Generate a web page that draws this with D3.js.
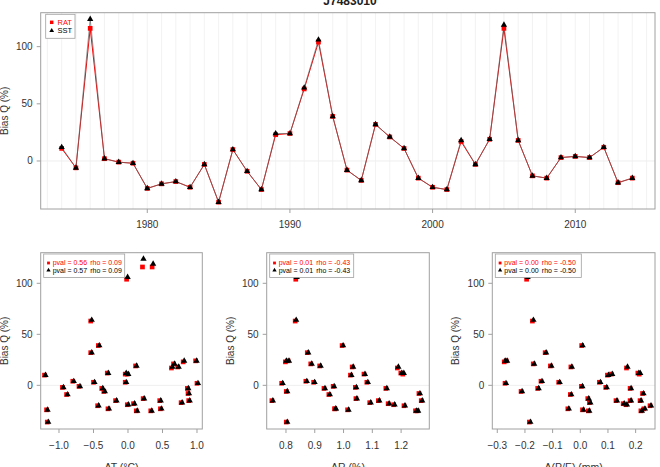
<!DOCTYPE html>
<html><head><meta charset="utf-8">
<script src="https://cdn.jsdelivr.net/npm/d3@7"></script>
<style>
body{margin:0;background:#fff;}
svg{display:block;font-family:"Liberation Sans",Arial,Helvetica,sans-serif;}
</style></head>
<body><svg id="c" width="660" height="467"></svg>
<script>
const title = "J7483010";
const years = d3.range(1974, 2015);
const rat = [11,-6,116,2,-1,-2,-24,-20,-18,-23,-3,-36,10,-9,-25,23,24,63,104,39,-8,-17,32,21,11,-15,-23,-25,17,-3,19,116,18,-13,-15,3,4,3,12,-19,-15];
const sst = [12,-6,124,2,-1,-2,-24,-20,-18,-23,-3,-36,10,-9,-25,24,24,64,106,39,-8,-17,32,21,11,-15,-23,-25,18,-3,19,119,18,-13,-15,3,4,3,12,-19,-15];
const at = [-0.04,-0.35,0.21,1.0,-0.71,-0.95,-1.18,-0.44,0.08,0.47,-0.38,-1.17,-1.21,-0.89,0.12,0.80,0.98,-0.54,-0.02,-0.43,0.87,0.77,-0.54,0.66,-0.01,-0.18,-0.29,0.33,0.63,0.86,0.11,0.35,0.72,0.22,0.46,-0.04,-0.80,-0.50,-0.30,-0.01,0.88];
const ar = [1.206,0.801,0.90,0.785,0.964,1.041,1.014,1.21,1.155,0.969,0.932,0.801,1.024,0.949,1.25,0.798,0.807,0.832,0.834,0.995,1.262,1.091,0.874,0.886,1.071,0.751,0.97,1.256,1.187,1.147,0.917,0.95,1.03,1.043,1.121,1.081,0.869,0.896,1.199,1.174,1.27];
const pe = [0.213,-0.214,-0.24,-0.272,0.004,0.092,0.008,0.252,0.155,-0.045,-0.154,-0.184,0.098,-0.036,0.219,-0.275,-0.268,-0.173,-0.194,0.005,0.225,0.033,-0.127,-0.17,0.112,0.129,0.23,0.029,0.167,0.18,-0.108,-0.1,-0.034,0.027,0.18,0.069,-0.142,-0.078,0.208,0.165,0.216];
const seriesNames = ["RAT","SST"];
const yTicks = [0,50,100];
const yearTicks = [1980,1990,2000,2010];
const scatterDefs = [
  {x: at, label: "AT (°C)", ticks: [-1.0,-0.5,0,0.5,1.0], fmt: d3.format(".1f"), dom: [-1.265,1.077], leg: [["0.56","0.09"],["0.57","0.09"]]},
  {x: ar, label: "AR (%)", ticks: [0.8,0.9,1.0,1.1,1.2], fmt: d3.format(".1f"), dom: [0.733,1.298], leg: [["0.01","-0.43"],["0.01","-0.43"]]},
  {x: pe, label: "A(P/E) (mm)", ticks: [-0.3,-0.2,-0.1,0,0.1,0.2], fmt: d3.format(".1f"), dom: [-0.318,0.270], leg: [["0.00","-0.50"],["0.00","-0.50"]]}
];

const svg = d3.select("#c");
const RED = "#ff0000", BOX = "#a0a0a0", TXT = "#333";
const sq = d3.symbol().type(d3.symbolSquare).size(22);
const tri = d3.symbol().type(d3.symbolTriangle).size(17);

function yAxis(g, y, x0) {
  yTicks.forEach(t => {
    g.append("line").attr("x1", x0-4).attr("x2", x0).attr("y1", y(t)).attr("y2", y(t)).attr("stroke", BOX);
    g.append("text").attr("x", x0-8).attr("y", y(t)+3.5).attr("text-anchor","end").attr("font-size",10).attr("fill",TXT).text(t);
  });
  const ym = (y.range()[0]+y.range()[1])/2;
  g.append("text").attr("transform",`translate(${x0-33},${ym}) rotate(-90)`).attr("text-anchor","middle").attr("font-size",10).attr("fill",TXT).text("Bias Q (%)");
}

// ---------- top time series ----------
const L = 40.7, R = 655, T = 12.7, B = 209;
const x = d3.scaleLinear().domain([1972.53, 2015.59]).range([L, R]);
const y = d3.scaleLinear().domain([-42, 129.7]).range([B, T]);
const topG = svg.append("g");
d3.range(1973, 2016).forEach(yr => {
  topG.append("line").attr("x1", x(yr)).attr("x2", x(yr)).attr("y1", T).attr("y2", B).attr("stroke", "#efefef").attr("stroke-width", 0.8);
});
topG.append("line").attr("x1", L).attr("x2", R).attr("y1", y(0)).attr("y2", y(0)).attr("stroke", "#efefef");
const line = d3.line().x((d,i)=>x(years[i])).y(d=>y(d));
topG.append("path").attr("d", line(rat)).attr("fill","none").attr("stroke", RED).attr("stroke-width",1);
topG.append("path").attr("d", line(sst)).attr("fill","none").attr("stroke", "#666").attr("stroke-width",0.7);
rat.forEach((v,i)=> topG.append("path").attr("d", sq()).attr("transform",`translate(${x(years[i])},${y(v)})`).attr("fill",RED));
sst.forEach((v,i)=> topG.append("path").attr("d", tri()).attr("transform",`translate(${x(years[i])},${y(v)})`).attr("fill","#000"));
topG.append("rect").attr("x",L).attr("y",T).attr("width",R-L).attr("height",B-T).attr("fill","none").attr("stroke",BOX);
yearTicks.forEach(t => {
  topG.append("line").attr("x1", x(t)).attr("x2", x(t)).attr("y1", B).attr("y2", B+4).attr("stroke", BOX);
  topG.append("text").attr("x", x(t)).attr("y", B+19).attr("text-anchor","middle").attr("font-size",10).attr("fill",TXT).text(t);
});
yAxis(topG, y, L);
svg.append("text").attr("x",350).attr("y",5).attr("text-anchor","middle").attr("font-size",12).attr("font-weight","bold").attr("fill","#222").text(title);
// legend
const lg = topG.append("g");
lg.append("rect").attr("x",45.7).attr("y",14.3).attr("width",29.3).attr("height",24).attr("fill","#fff").attr("stroke",BOX).attr("stroke-width",0.8);
lg.append("path").attr("d", d3.symbol().type(d3.symbolSquare).size(12)()).attr("transform","translate(51.7,22.3)").attr("fill",RED);
lg.append("path").attr("d", d3.symbol().type(d3.symbolTriangle).size(10)()).attr("transform","translate(51.7,30.7)").attr("fill","#000");
lg.append("text").attr("x",57.5).attr("y",25).attr("font-size",7.5).attr("fill",RED).text(seriesNames[0]);
lg.append("text").attr("x",57.5).attr("y",33.4).attr("font-size",7.5).attr("fill","#000").text(seriesNames[1]);

// ---------- scatters ----------
const boxes = [[40.7,202.3],[266.7,429.3],[492.3,655]];
const sT = 252.7, sB = 429;
const ys = d3.scaleLinear().domain([-42.8, 130]).range([sB, sT]);
const legSq = d3.symbol().type(d3.symbolSquare).size(8);
const legTri = d3.symbol().type(d3.symbolTriangle).size(8);
scatterDefs.forEach((def, k) => {
  const [l, r] = boxes[k];
  const xs = d3.scaleLinear().domain(def.dom).range([l, r]);
  const g = svg.append("g");
  g.append("line").attr("x1", l).attr("x2", r).attr("y1", ys(0)).attr("y2", ys(0)).attr("stroke", "#efefef");
  rat.forEach((v,i)=> g.append("path").attr("d", sq()).attr("transform",`translate(${xs(def.x[i])},${ys(v)})`).attr("fill",RED));
  sst.forEach((v,i)=> g.append("path").attr("d", tri()).attr("transform",`translate(${xs(def.x[i])+1},${ys(v)})`).attr("fill","#000"));
  g.append("rect").attr("x",l).attr("y",sT).attr("width",r-l).attr("height",sB-sT).attr("fill","none").attr("stroke",BOX);
  def.ticks.forEach(t => {
    g.append("line").attr("x1", xs(t)).attr("x2", xs(t)).attr("y1", sB).attr("y2", sB+4).attr("stroke", BOX);
    g.append("text").attr("x", xs(t)).attr("y", sB+20).attr("text-anchor","middle").attr("font-size",10).attr("fill",TXT).text(def.fmt(t));
  });
  g.append("text").attr("x",(l+r)/2).attr("y",471).attr("text-anchor","middle").attr("font-size",10.5).attr("fill",TXT).text(def.label);
  yAxis(g, ys, l);
  // legend
  const lx = l + 3;
  const lw = [81, 84, 86][k];
  g.append("rect").attr("x",lx).attr("y",254).attr("width",lw).attr("height",23.5).attr("fill","#fff").attr("stroke",BOX).attr("stroke-width",0.8);
  [RED,"#000"].forEach((c,j)=>{
    const yy = 263 + j*7.3;
    g.append("path").attr("d", (j===0 ? legSq : legTri)())
      .attr("transform",`translate(${lx+4.8},${yy})`).attr("fill",c);
    g.append("text").attr("x",lx+9).attr("y",yy+2.4).attr("font-size",7).attr("fill",c).text("pval = " + def.leg[j][0]);
    g.append("text").attr("x",lx+46.5).attr("y",yy+2.4).attr("font-size",7).attr("fill",c).text("rho = " + def.leg[j][1]);
  });
});
</script></body></html>
